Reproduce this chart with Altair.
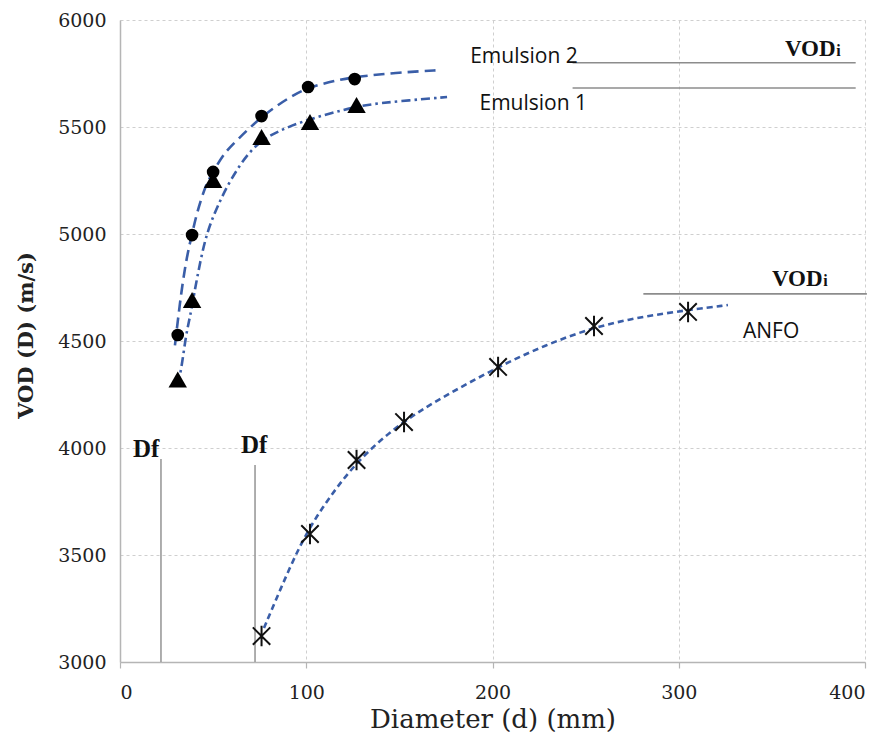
import altair as alt
import pandas as pd

em2_d = [31, 38.7, 50, 76, 101, 126]
em2_v = [4528, 4995, 5290, 5551, 5687, 5724]
em1_d = [31, 38.7, 50, 76, 102, 127]
em1_v = [4320, 4692, 5252, 5453, 5523, 5603]
anfo_d = [76, 102, 127, 152.5, 203, 254.5, 305]
anfo_v = [3121, 3598, 3944, 4121, 4379, 4570, 4636]

# ---- trend curves ----
em2_cd = [29.5, 33, 36, 38.7, 41.3, 46, 50, 56, 63, 76, 91, 101, 117, 127, 150, 172]
em2_cv = [4480, 4740, 4900, 5000, 5100, 5230, 5290, 5380, 5440, 5550, 5640, 5685, 5720, 5735, 5755, 5766]
em1_cd = [31.1, 33.3, 35.4, 37.6, 39.7, 43.0, 46.7, 52.1, 59.1, 71.4, 85.9, 100.4, 115.4, 130.5, 150.3, 175.6]
em1_cv = [4294, 4388, 4528, 4612, 4715, 4869, 5009, 5126, 5252, 5416, 5486, 5533, 5570, 5603, 5621, 5640]
anfo_cd = [77.3, 85.9, 96.6, 107.4, 127.2, 152.5, 177.2, 203.0, 228.2, 254.5, 279.2, 305.0, 326.4]
anfo_cv = [3159, 3336, 3547, 3710, 3944, 4131, 4257, 4379, 4481, 4565, 4612, 4645, 4668]

# ---- reference lines ----
vod_y = [5800, 5682, 4720]
vod_x1 = [243, 243, 281]
vod_x2 = [395, 395, 401]
df_x = [22, 72.5]
df_top = [3949, 3920]

# ---- annotations ----
series_labels = ["Emulsion 2", "Emulsion 1", "ANFO"]
series_lab_x = [188, 193, 334.5]
series_lab_y = [5799, 5579, 4514]
vod_lab_x = [357, 350]
vod_lab_y = [5832, 4757]
vod_sub_x = [384.5, 377.6]
df_lab_x = [7, 65]
df_lab_y = [3958, 3977]

x_ticks = [0, 100, 200, 300, 400]
y_ticks = [3000, 3500, 4000, 4500, 5000, 5500, 6000]

BLUE = "#3a5ea8"
SERIF = "Liberation Serif"
AXFONT = "DejaVu Serif"

xscale = alt.Scale(domain=[0, 400], nice=False, zero=False)
yscale = alt.Scale(domain=[3000, 6000], nice=False, zero=False)

xaxis = alt.Axis(
    values=x_ticks, format="d", title="Diameter (d) (mm)", grid=True, gridDash=[3, 3],
    gridColor="#cfcfcf", gridWidth=1, domainColor="#b5b5b5", domainWidth=1.5,
    tickColor="#b5b5b5", tickSize=6, tickWidth=1.2, labelFont=AXFONT,
    labelFontSize=19, labelColor="#222222", labelPadding=15, titleFont=AXFONT,
    titleFontSize=26, titleFontWeight="normal", titleColor="#222222",
    titleX=372.5, titleY=65, titleBaseline="alphabetic", titleAlign="center",
)
yaxis = alt.Axis(
    values=y_ticks, format="d", title="VOD (D) (m/s)", grid=True, gridDash=[3, 3],
    gridColor="#cfcfcf", gridWidth=1, domainColor="#b5b5b5", domainWidth=1.5,
    ticks=False, labelFont=AXFONT, labelFontSize=19, labelColor="#222222",
    labelPadding=14, titleFont=AXFONT, titleFontSize=21, titleFontWeight="bold",
    titleColor="#222222", titleAngle=-90, titleX=-94, titleY=315,
    titleBaseline="middle", titleAlign="center",
)


def X(f):
    return alt.X(f"{f}:Q", scale=xscale, axis=xaxis)


def Y(f):
    return alt.Y(f"{f}:Q", scale=yscale, axis=yaxis)


def curve(d, v, dash):
    df = pd.DataFrame({"d": d, "v": v})
    return alt.Chart(df).mark_line(
        color=BLUE, strokeWidth=2.6, strokeDash=dash, interpolate="basis"
    ).encode(x=X("d"), y=Y("v"))


c_em2 = curve(em2_cd, em2_cv, [11, 6])
c_em1 = curve(em1_cd, em1_cv, [9, 4, 2.5, 4])
c_anfo = curve(anfo_cd, anfo_cv, [6, 4])

p_em2 = alt.Chart(pd.DataFrame({"d": em2_d, "v": em2_v})).mark_point(
    shape="circle", filled=True, color="black", size=160, opacity=1
).encode(x=X("d"), y=Y("v"))
p_em1 = alt.Chart(pd.DataFrame({"d": em1_d, "v": em1_v})).mark_point(
    shape="triangle-up", filled=True, color="black", size=340, opacity=1
).encode(x=X("d"), y=Y("v"))
p_anfo = alt.Chart(pd.DataFrame({"d": anfo_d, "v": anfo_v})).mark_point(
    shape="M-0.85,-0.85L0.85,0.85M0.85,-0.85L-0.85,0.85M0,-1L0,1",
    filled=False, stroke="#111111", strokeWidth=2, size=420, opacity=1
).encode(x=X("d"), y=Y("v"))

vod_rules = alt.Chart(pd.DataFrame({"x1": vod_x1, "x2": vod_x2, "y": vod_y})).mark_rule(
    color="#8c8c8c", strokeWidth=1.6
).encode(x=X("x1"), x2="x2:Q", y=Y("y"))

df_rules = alt.Chart(pd.DataFrame({"x": df_x, "top": df_top, "bot": [3000, 3000]})).mark_rule(
    color="#9a9a9a", strokeWidth=1.6
).encode(x=X("x"), y=Y("bot"), y2="top:Q")

t_series = alt.Chart(pd.DataFrame({"x": series_lab_x, "y": series_lab_y, "t": series_labels})).mark_text(
    font="Open Sans", fontSize=21, align="left", baseline="alphabetic", color="#111111"
).encode(x=X("x"), y=Y("y"), text="t:N")

t_vod = alt.Chart(pd.DataFrame({"x": vod_lab_x, "y": vod_lab_y, "t": ["VOD", "VOD"]})).mark_text(
    font=SERIF, fontSize=23, fontWeight="bold", align="left", baseline="alphabetic", color="#111111"
).encode(x=X("x"), y=Y("y"), text="t:N")

t_vod_i = alt.Chart(pd.DataFrame({"x": vod_sub_x, "y": vod_lab_y, "t": ["i", "i"]})).mark_text(
    font=SERIF, fontSize=16, fontWeight="bold", align="left", baseline="alphabetic", color="#111111"
).encode(x=X("x"), y=Y("y"), text="t:N")

t_df = alt.Chart(pd.DataFrame({"x": df_lab_x, "y": df_lab_y, "t": ["Df", "Df"]})).mark_text(
    font=SERIF, fontSize=25, fontWeight="bold", align="left", baseline="alphabetic", color="#111111"
).encode(x=X("x"), y=Y("y"), text="t:N")

chart = alt.layer(
    c_em2, c_em1, c_anfo, vod_rules, df_rules, p_em2, p_em1, p_anfo,
    t_series, t_vod, t_vod_i, t_df,
).properties(
    width=745, height=642,
    autosize=alt.AutoSizeParams(type="none"),
    padding={"left": 112, "top": 12, "right": 8, "bottom": 72},
    background="white",
).configure_view(stroke="transparent")

chart.save("out.html", embed_options={"renderer": "svg", "actions": False})
